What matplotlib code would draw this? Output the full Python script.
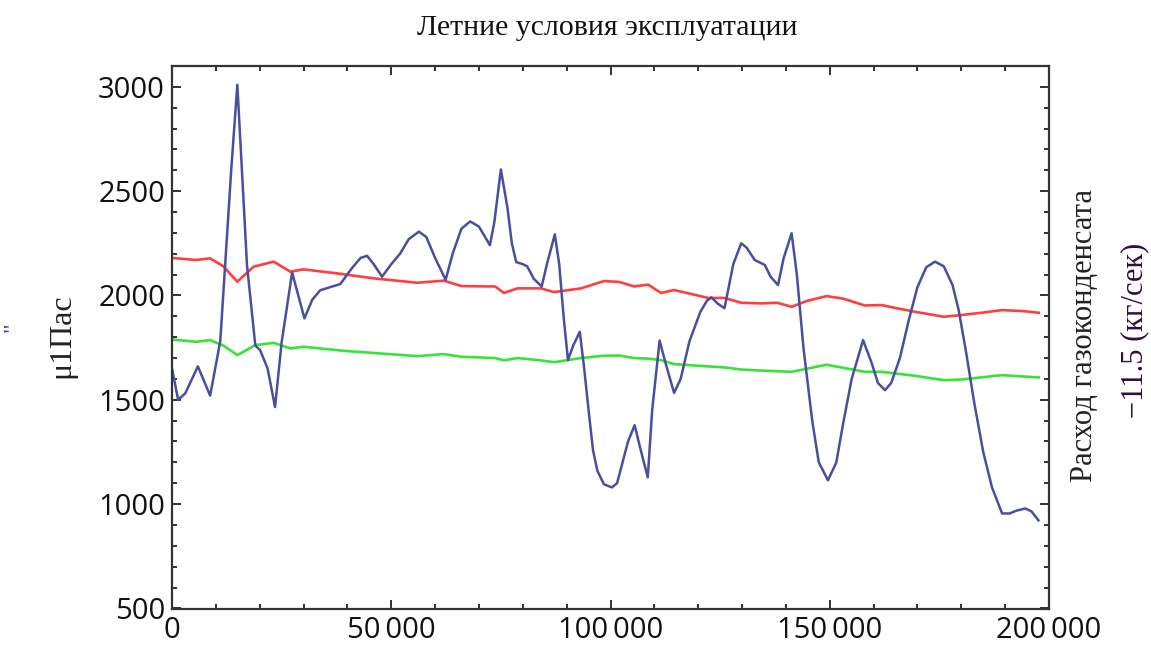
import numpy as np
import matplotlib
matplotlib.use('Agg')
import matplotlib.pyplot as plt
from matplotlib.ticker import MultipleLocator, FixedLocator

# blue curve (pressure), x in thousands
blue_x = [0, 1.4, 3, 5.9, 8.7, 11, 12.1, 13.5, 14.9, 16.2, 17.1, 19, 20.1, 21.8,
          23.5, 25, 27.4, 30.2, 32, 33.8, 38.4, 41, 43, 44.5, 46, 47.9, 50, 52,
          54, 56.3, 58, 60, 62.4, 64, 66, 68, 70, 72.5, 73.5, 75, 76.5, 77.5,
          78.5, 80, 81, 82.5, 84.3, 85.5, 87.3, 88.3, 89.3, 90.3, 91.5, 93, 94,
          95, 96, 97, 98.5, 100.3, 101.5, 102.5, 104, 105.5, 107, 108.5, 109.5,
          111.2, 112.5, 114.5, 116, 118, 120.5, 122, 123, 124.5, 126, 128, 129.8,
          131, 132.9, 135.2, 136.5, 138.2, 139.5, 141.3, 142.5, 144, 146, 147.5,
          149.6, 151.5, 153, 155, 157.6, 159.5, 161, 162.6, 164, 166, 168, 170,
          172, 174, 176, 178, 179.4, 181, 183, 185, 187, 189.3, 191, 192.5, 194.6,
          196, 197.6]
blue_y = [1650, 1500, 1530, 1660, 1520, 1780, 2140, 2600, 3010, 2500, 2146, 1760,
          1738, 1650, 1465, 1775, 2110, 1890, 1980, 2025, 2055, 2130, 2180, 2190,
          2150, 2090, 2150, 2200, 2270, 2306, 2280, 2180, 2075, 2200, 2320, 2355,
          2330, 2241, 2350, 2604, 2420, 2250, 2160, 2150, 2140, 2080, 2043, 2150,
          2293, 2150, 1900, 1690, 1760, 1826, 1650, 1450, 1260, 1160, 1095, 1080,
          1100, 1180, 1300, 1378, 1250, 1128, 1450, 1784, 1680, 1533, 1600, 1780,
          1922, 1975, 1991, 1960, 1939, 2150, 2250, 2230, 2170, 2146, 2090, 2050,
          2180, 2298, 2100, 1750, 1400, 1200, 1114, 1200, 1380, 1600, 1786, 1680,
          1580, 1546, 1580, 1700, 1880, 2040, 2135, 2162, 2140, 2050, 1930, 1740,
          1480, 1250, 1080, 955, 955, 968, 979, 965, 922]

red_x = [0, 5.5, 8.7, 11.7, 14.9, 18.6, 23.2, 27, 30, 37.6, 46, 56, 62, 66, 73.7,
         75.7, 78.8, 84.1, 87.1, 93.3, 98.5, 102, 105.4, 108.6, 111.5, 114.5, 122.3,
         126, 129.8, 134.4, 138, 141.3, 145, 149.3, 153, 158, 161.8, 165, 169.4,
         176, 180, 185, 189.3, 194, 197.7]
red_y = [2180, 2170, 2178, 2140, 2066, 2138, 2162, 2114, 2125, 2106, 2082, 2061,
         2071, 2045, 2043, 2012, 2034, 2034, 2016, 2034, 2069, 2065, 2043, 2052,
         2012, 2026, 1988, 1988, 1965, 1962, 1965, 1946, 1975, 1997, 1985, 1952,
         1954, 1940, 1922, 1898, 1906, 1918, 1930, 1925, 1917]

green_x = [0, 5.5, 8.7, 11.7, 14.9, 19, 23.2, 27, 30, 39, 56, 62, 66, 73.7, 75.7,
           78.8, 84.1, 87.1, 93.3, 98.5, 102, 105.4, 108.6, 111.5, 114.5, 122.3,
           126, 129.8, 134.4, 141.3, 149.3, 158, 161.8, 169.4, 176, 180, 189.3, 197.7]
green_y = [1789, 1778, 1786, 1760, 1714, 1762, 1773, 1746, 1754, 1735, 1709, 1719,
           1706, 1700, 1689, 1700, 1689, 1680, 1700, 1711, 1712, 1700, 1697, 1690,
           1671, 1660, 1655, 1645, 1640, 1634, 1668, 1634, 1634, 1615, 1594, 1597,
           1618, 1607]

x_ticks = [0, 50000, 100000, 150000, 200000]
x_labels = ['0', '50\u2009000', '100\u2009000', '150\u2009000', '200\u2009000']
y_ticks = [500, 1000, 1500, 2000, 2500, 3000]

serif = 'Liberation Serif'
sans = ['Open Sans', 'DejaVu Sans']

fig = plt.figure(figsize=(11.51, 6.48), dpi=100)
ax = fig.add_axes([172 / 1151, 1 - 609 / 648, (1049 - 172) / 1151, (609 - 66) / 648])

ax.plot(np.array(red_x) * 1000, red_y, color='#ff2a2a', lw=1.9, alpha=0.9,
        solid_joinstyle='round')
ax.plot(np.array(green_x) * 1000, green_y, color='#22e022', lw=1.9, alpha=0.9,
        solid_joinstyle='round')
ax.plot(np.array(blue_x) * 1000, blue_y, color='#4a4e9e', lw=1.8,
        solid_joinstyle='round')

ax.set_xlim(0, 200000)
ax.set_ylim(497, 3100)

ax.xaxis.set_major_locator(FixedLocator(x_ticks))
ax.set_xticklabels(x_labels)
ax.xaxis.set_minor_locator(MultipleLocator(10000))
ax.yaxis.set_major_locator(FixedLocator(y_ticks))
ax.yaxis.set_minor_locator(MultipleLocator(100))

ax.tick_params(which='both', direction='in', top=True, right=True, width=1.3,
               colors='#222222', labelcolor='#111111')
ax.tick_params(which='major', length=6.5, labelsize=21, pad=5)
ax.tick_params(which='minor', length=3.8)
for lab in ax.get_xticklabels() + ax.get_yticklabels():
    lab.set_fontfamily(sans)
for s in ax.spines.values():
    s.set_linewidth(1.6)
    s.set_color('#333333')

fig.text(607 / 1151, 1 - 28 / 648, 'Летние условия эксплуатации', ha='center',
         va='center', fontsize=21.5, family=serif, color='#111111')
fig.text(62 / 1151, 1 - 336 / 648, 'μ1Пас', rotation=90, ha='center', va='center',
         fontsize=23, family=serif, color='#222222')
fig.text(13 / 1151, 1 - 327 / 648, '"', rotation=90, ha='center', va='center',
         fontsize=17, family=serif, color='#3a44a8')
fig.text(1085 / 1151, 1 - 335 / 648, 'Расход газоконденсата', rotation=90,
         ha='center', va='center', fontsize=22, family=serif, color='#222222')
fig.text(1135 / 1151, 1 - 330 / 648, '\u221211.5 (кг/сек)', rotation=90,
         ha='center', va='center', fontsize=22, family=serif, color='#2a1040')

fig.savefig('out.png', dpi=100)
